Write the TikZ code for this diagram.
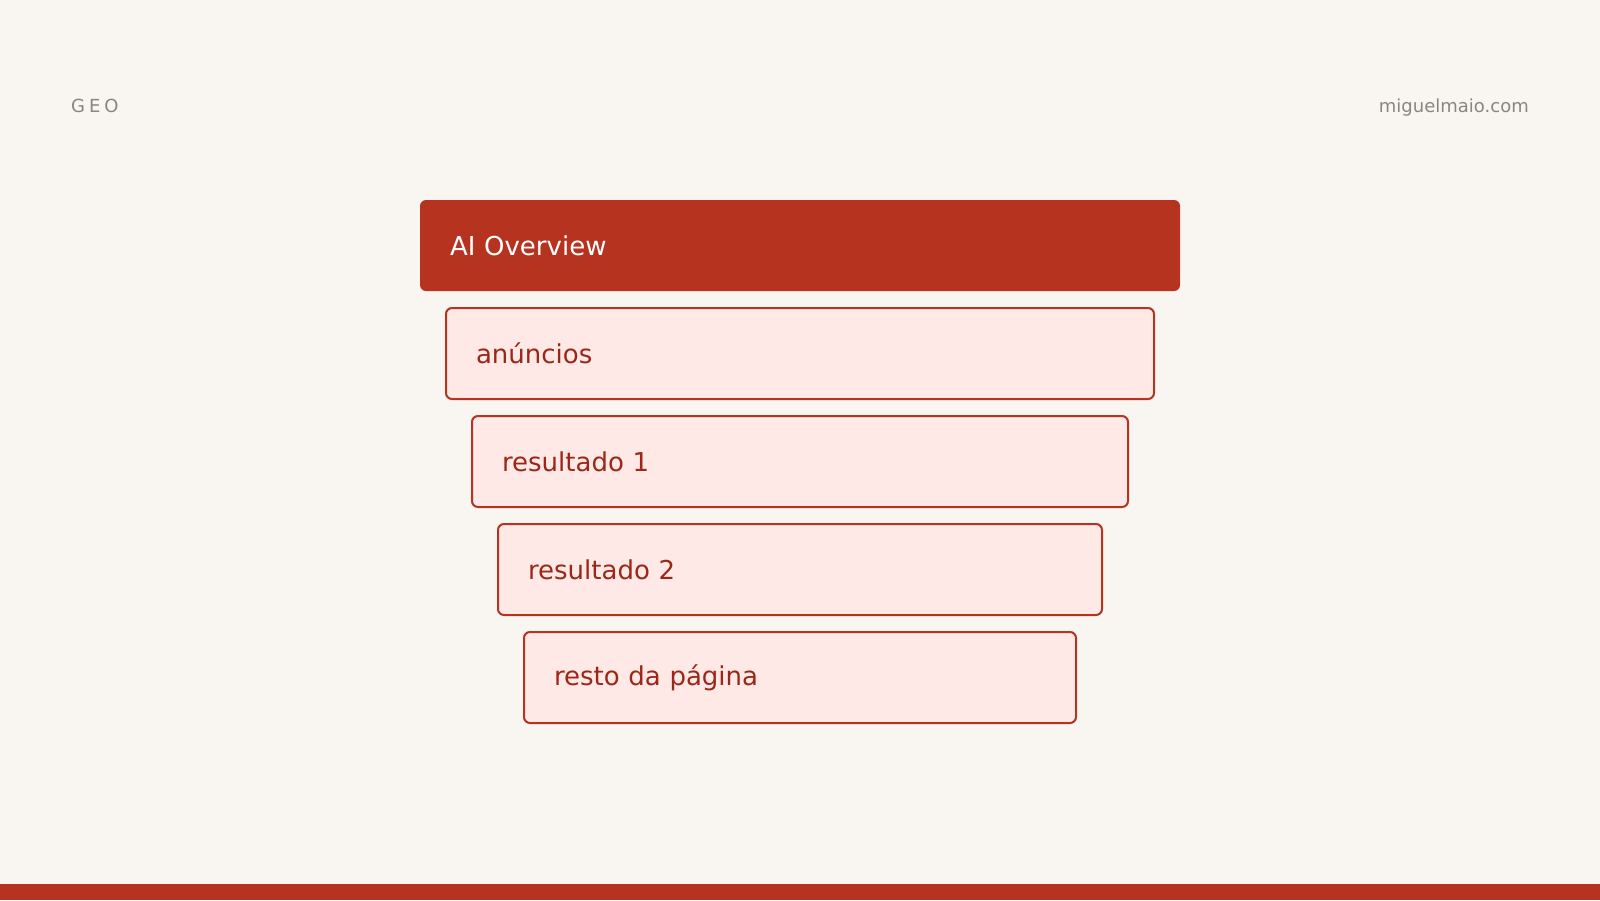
\documentclass[tikz,border=0pt]{standalone}
\usepackage{fontspec}
\setmainfont{DejaVu Sans}
\newfontfamily\spacedfont[LetterSpace=22]{DejaVu Sans}
\usetikzlibrary{positioning}
\definecolor{pagebg}{HTML}{F9F6F1}
\definecolor{accent}{HTML}{B5331F}
\definecolor{blush}{HTML}{FFE9E6}
\definecolor{darkred}{HTML}{9A2717}
\definecolor{stone}{HTML}{8A857F}

\begin{document}
\begin{tikzpicture}[x=1pt,y=-1pt,line join=round]

      \fill[pagebg] (0,0) rectangle (1600,900);
      \useasboundingbox (0,0) rectangle (1600,900);

      \node[anchor=west,text=stone,inner sep=0pt] (tag) at (71,106) {\fontsize{18}{22}\selectfont\spacedfont GEO};
      \node[anchor=east,text=stone,inner sep=0pt] (site) at (1529,108) {\fontsize{18}{22}\selectfont miguelmaio.com};

      \tikzstyle{layer}=[rectangle, rounded corners=6pt, minimum height=91pt, inner xsep=30pt, align=left, font=\fontsize{26}{30}\selectfont];
      \tikzstyle{toplayer}=[layer, fill=accent, text=white];
      \tikzstyle{sublayer}=[layer, draw=accent, line width=2pt, fill=blush, text=darkred];

      \node[toplayer, text width=700pt] (overview) at (800,245.5) {AI Overview};
      \node[sublayer, text width=648pt] (ads) at (800,353.5) {anúncios};
      \node[sublayer, text width=596pt] (resultone) at (800,461.5) {resultado 1};
      \node[sublayer, text width=544pt] (resulttwo) at (800,569.5) {resultado 2};
      \node[sublayer, text width=492pt] (rest) at (800,677.5) {resto da página};

      \fill[accent] (0,884) rectangle (1600,900);
\end{tikzpicture}
\end{document}
